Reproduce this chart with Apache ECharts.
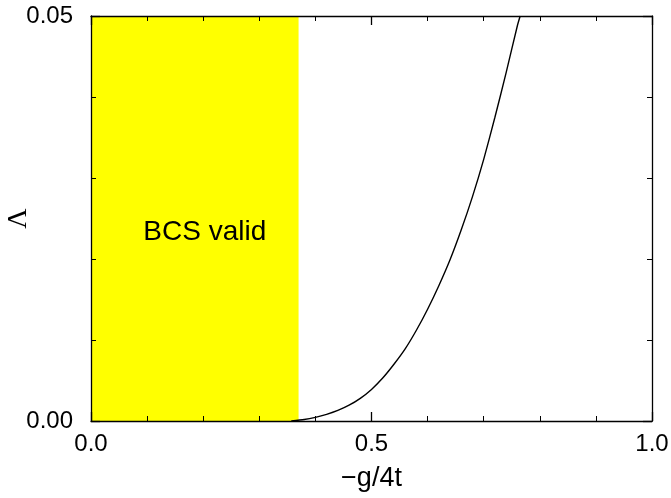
<!DOCTYPE html>
<html>
<head>
<meta charset="utf-8">
<script src="https://cdn.jsdelivr.net/npm/echarts@6/dist/echarts.min.js"></script>
<style>html,body{margin:0;padding:0;background:#fff}#c{width:671px;height:498px}</style>
</head>
<body>
<div id="c"></div>
<script>
var xTitle = '\u2212g/4t';
var yTitle = '\u039B';
var regionLabel = 'BCS valid';
var regionX = [0, 0.37];
var curveX = [0.357, 0.38, 0.40, 0.42, 0.44, 0.46, 0.48, 0.50, 0.52, 0.54, 0.56, 0.58, 0.60, 0.62, 0.64, 0.66, 0.68, 0.70, 0.72, 0.74, 0.76, 0.765];
var curveY = [0.0000, 0.00018, 0.00045, 0.00082, 0.0013, 0.00195, 0.0028, 0.0039, 0.0053, 0.0070, 0.0089, 0.0112, 0.0138, 0.0167, 0.0199, 0.0236, 0.0277, 0.0323, 0.0375, 0.0430, 0.0488, 0.0500];

var chart = echarts.init(document.getElementById('c'), null, {renderer: 'canvas'});
var font = 'Liberation Sans, Arial, sans-serif';
var lineStyle = {color: '#000', width: 1.3};
function xAx(pos, show) {
  return {
    type: 'value', position: pos, min: 0, max: 1, interval: 0.5, z: 5,
    axisLine: {show: true, onZero: false, lineStyle: lineStyle},
    axisTick: {show: true, inside: true, length: 9, lineStyle: lineStyle},
    minorTick: {show: true, splitNumber: 5, length: 5, lineStyle: {color: '#000', width: 1}},
    splitLine: {show: false},
    axisLabel: {show: show, fontFamily: font, fontSize: 24, color: '#000', margin: 11,
      formatter: function (v) { return v.toFixed(1); }},
    name: show ? xTitle : '', nameLocation: 'middle', nameGap: 44, nameMoveOverlap: false,
    nameTextStyle: {fontFamily: font, fontSize: 27, color: '#000'}
  };
}
function yAx(pos, show) {
  return {
    type: 'value', position: pos, min: 0, max: 0.05, interval: 0.05, z: 5,
    axisLine: {show: true, onZero: false, lineStyle: lineStyle},
    axisTick: {show: true, inside: true, length: 9, lineStyle: lineStyle},
    minorTick: {show: true, splitNumber: 5, length: 5, lineStyle: {color: '#000', width: 1}},
    splitLine: {show: false},
    axisLabel: {show: show, fontFamily: font, fontSize: 24, color: '#000', margin: 18,
      formatter: function (v) { return v.toFixed(2); }},
    name: show ? yTitle : '', nameLocation: 'middle', nameGap: 58, nameRotate: 90, nameMoveOverlap: false,
    nameTextStyle: {fontFamily: 'Liberation Serif, Times New Roman, serif', fontSize: 28, color: '#000'}
  };
}
var data = curveX.map(function (x, i) { return [x, curveY[i]]; });
chart.setOption({
  animation: false,
  backgroundColor: '#fff',
  grid: {left: 91, right: 19, top: 16, bottom: 77, containLabel: false, outerBoundsMode: 'none'},
  xAxis: [xAx('bottom', true), xAx('top', false)],
  yAxis: [yAx('left', true), yAx('right', false)],
  series: [{
    type: 'line', data: data, showSymbol: false, smooth: 0.2,
    lineStyle: {color: '#000', width: 1.4}, z: 3,
    markArea: {
      silent: true,
      itemStyle: {color: '#ffff00', opacity: 1},
      label: {show: true, position: 'inside', offset: [10, 14], fontFamily: font, fontSize: 28, color: '#000'},
      data: [[{xAxis: regionX[0], name: regionLabel}, {xAxis: regionX[1]}]]
    }
  }]
});
</script>
</body>
</html>
